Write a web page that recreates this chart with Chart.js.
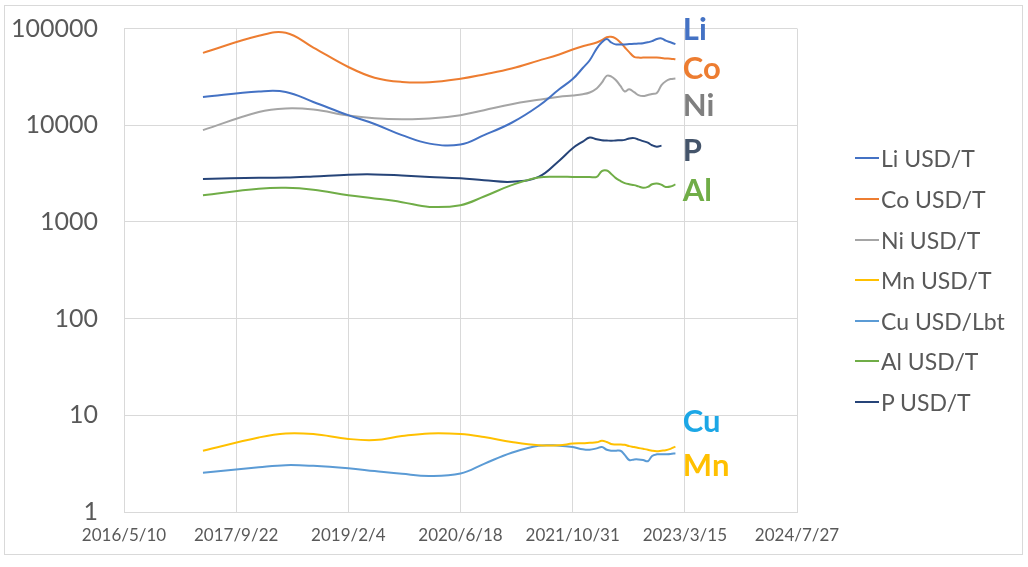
<!DOCTYPE html>
<html>
<head>
<meta charset="utf-8">
<script src="https://cdn.jsdelivr.net/npm/chart.js@4.4.0/dist/chart.umd.min.js"></script>
<style>
html, body { margin: 0; padding: 0; background: #fff; }
#wrap { position: relative; width: 1028px; height: 567px; }
#frame { position: absolute; left: 4px; top: 5px; width: 1017px; height: 548px; border: 1px solid #d9d9d9; pointer-events: none; }
#legend { position: absolute; left: 855px; top: 0; font-family: Lato, sans-serif; font-size: 23px; color: #595959; }
#legend .item { position: absolute; left: 0; height: 30px; display: flex; align-items: center; white-space: nowrap; }
#legend .item i { display: inline-block; width: 24px; height: 2px; margin-right: 2px; }
</style>
</head>
<body>
<div id="wrap">
  <canvas id="chart" width="1028" height="567"></canvas>
  <div id="frame"></div>
  <div id="legend"></div>
</div>
<script>
// sample dates (Y/M/D) shared by every series
const dates = [
  '2017/4/27', '2018/1/1', '2018/5/1', '2018/9/1', '2019/2/4', '2019/6/1', '2019/10/1',
  '2020/2/1', '2020/6/18', '2020/10/1', '2021/2/1', '2021/6/1', '2021/9/1', '2021/10/31',
  '2021/12/15', '2022/1/15', '2022/2/15', '2022/3/10', '2022/4/1', '2022/4/20', '2022/5/10',
  '2022/6/1', '2022/6/20', '2022/7/10', '2022/8/1', '2022/8/20', '2022/9/10', '2022/10/1',
  '2022/10/20', '2022/11/10', '2022/12/1', '2022/12/20', '2023/1/10', '2023/2/1'
];

const li = [19600, 22300, 22100, 17400, 12700, 10300, 7900, 6450, 6320, 7900, 10600, 15800, 23500, 30000,
  39000, 47000, 62000, 72000, 78000, 72000, 68500, 68500, 68500, 69000, 69500, 70000, 70500, 72000,
  74000, 78000, 79000, 75000, 72000, 69000];
const co = [56000, 84000, 90500, 63600, 40000, 31000, 28000, 27800, 30200, 33500, 38500, 46500, 53900, 60700,
  65600, 68300, 71600, 75700, 81300, 82000, 79000, 71600, 64000, 57000, 51000, 50000, 50000, 50000,
  50000, 50000, 49500, 49000, 48800, 48000];
const ni = [8900, 13700, 14900, 14500, 12600, 11800, 11500, 11700, 12700, 14300, 16500, 18300, 19700, 20300,
  20900, 21800, 24000, 27500, 32500, 32000, 29500, 25500, 22300, 23500, 22000, 20500, 20000, 20500,
  21000, 21500, 26000, 28500, 30000, 30400];
const mn = [4.3, 5.9, 6.5, 6.4, 5.7, 5.55, 6.1, 6.5, 6.4, 5.95, 5.3, 4.9, 4.9, 5.1,
  5.15, 5.2, 5.25, 5.45, 5.3, 5.05, 5.0, 5.0, 4.95, 4.8, 4.7, 4.6, 4.5, 4.4,
  4.3, 4.25, 4.3, 4.35, 4.5, 4.75];
const cu = [2.55, 2.9, 3.05, 3.0, 2.83, 2.65, 2.48, 2.36, 2.5, 3.15, 4.1, 4.85, 4.85, 4.7,
  4.45, 4.4, 4.55, 4.7, 4.4, 4.3, 4.3, 4.3, 3.9, 3.45, 3.5, 3.5, 3.45, 3.35,
  3.8, 3.95, 3.95, 3.95, 3.97, 4.05];
const al = [1890, 2200, 2250, 2150, 1890, 1750, 1600, 1430, 1490, 1830, 2400, 2880, 2930, 2920,
  2920, 2920, 2920, 3350, 3400, 3150, 2850, 2650, 2520, 2450, 2400, 2330, 2250, 2300,
  2450, 2500, 2420, 2300, 2320, 2440];
const p = [2780, 2860, 2870, 2950, 3080, 3100, 3020, 2920, 2820, 2700, 2600, 2920, 4300, 5780,
  6770, 7460, 7150, 7000, 6950, 6900, 6950, 7000, 7050, 7300, 7350, 7100, 6850, 6600,
  6200, 6000, 6150, null, null, null];

const seriesNames = ['Li USD/T', 'Co USD/T', 'Ni USD/T', 'Mn USD/T', 'Cu USD/Lbt', 'Al USD/T', 'P USD/T'];
const seriesValues = [li, co, ni, mn, cu, al, p];
const seriesColors = ['#4472C4', '#ED7D31', '#A5A5A5', '#FFC000', '#5B9BD5', '#70AD47', '#264478'];

const yTicks = [1, 10, 100, 1000, 10000, 100000];
const xTickLabels = ['2016/5/10', '2017/9/22', '2019/2/4', '2020/6/18', '2021/10/31', '2023/3/15', '2024/7/27'];

// element names written beside the lines
const tagNames = ['Li', 'Co', 'Ni', 'P', 'Al', 'Cu', 'Mn'];
const tagLevels = [97000, 38000, 15800, 5400, 2090, 8.5, 3.0];
const tagColors = ['#4472C4', '#ED7D31', '#7F7F7F', '#44546A', '#70AD47', '#1CA7E6', '#FFC000'];

const origin = Date.UTC(2016, 4, 10);
function dayOf(s) {
  const [y, m, d] = s.split('/').map(Number);
  return Math.round((Date.UTC(y, m - 1, d) - origin) / 86400000);
}
const xDays = dates.map(dayOf);
const tagDay = dayOf('2023/3/15');

const tagPlugin = {
  id: 'tags',
  afterDatasetsDraw(chart) {
    const { ctx, scales: { x, y } } = chart;
    ctx.save();
    ctx.font = 'bold 31px Lato';
    ctx.textBaseline = 'middle';
    tagNames.forEach((t, i) => {
      ctx.fillStyle = tagColors[i];
      ctx.fillText(t, x.getPixelForValue(tagDay) - 2, y.getPixelForValue(tagLevels[i]));
    });
    ctx.restore();
  }
};

const ctx = document.getElementById('chart').getContext('2d');
const chart = new Chart(ctx, {
  type: 'line',
  data: {
    datasets: seriesNames.map((name, i) => ({
      label: name,
      data: xDays.map((d, j) => ({ x: d, y: seriesValues[i][j] })),
      borderColor: seriesColors[i],
      backgroundColor: seriesColors[i],
      borderWidth: 2,
      pointRadius: 0,
      tension: 0.4,
      fill: false
    }))
  },
  options: {
    responsive: false,
    animation: false,
    layout: { padding: { top: 28.5, right: 231, left: 0, bottom: 0 } },
    plugins: { legend: { display: false }, tooltip: { enabled: false } },
    scales: {
      x: {
        type: 'linear',
        min: 0,
        max: 3000,
        ticks: {
          stepSize: 500,
          maxRotation: 0,
          padding: 13,
          color: '#595959',
          font: { family: 'Lato', size: 17 },
          callback: v => xTickLabels[Math.round(v / 500)]
        },
        grid: { color: '#d9d9d9', drawTicks: false },
        border: { color: '#d9d9d9' },
        afterFit: s => { s.height = 55; }
      },
      y: {
        type: 'logarithmic',
        min: 1,
        max: 100000,
        afterBuildTicks: s => { s.ticks = yTicks.map(v => ({ value: v })); },
        ticks: {
          padding: 0,
          color: '#595959',
          font: { family: 'Lato', size: 25 },
          callback: v => String(v)
        },
        grid: { color: '#d9d9d9', drawTicks: true, tickLength: 26, tickColor: 'rgba(0,0,0,0)' },
        border: { color: '#d9d9d9' },
        afterFit: s => { s.width = 124; }
      }
    }
  },
  plugins: [tagPlugin]
});

// legend beside the plot
const legendCenters = [158, 199, 240, 280, 321, 361, 402];
const legend = document.getElementById('legend');
chart.data.datasets.forEach((ds, i) => {
  const row = document.createElement('div');
  row.className = 'item';
  row.style.top = (legendCenters[i] - 15) + 'px';
  const line = document.createElement('i');
  line.style.background = ds.borderColor;
  row.appendChild(line);
  row.appendChild(document.createTextNode(ds.label));
  legend.appendChild(row);
});
</script>
</body>
</html>
